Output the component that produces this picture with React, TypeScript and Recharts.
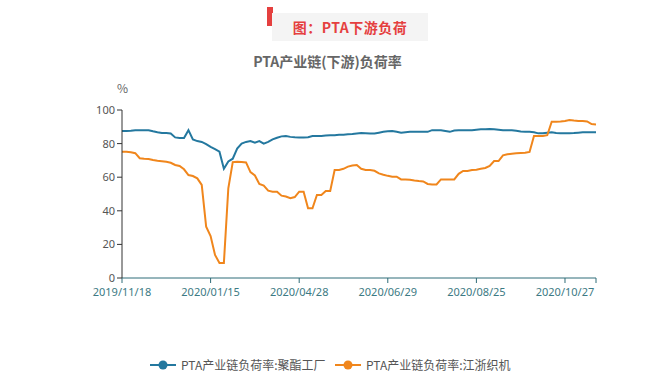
import { LineChart, Line, XAxis, YAxis } from "recharts";

const tickLabels = ["2019/11/18", "2020/01/15", "2020/04/28", "2020/06/29", "2020/08/25", "2020/10/27"];
const seriesNames = ["PTA产业链负荷率:聚酯工厂", "PTA产业链负荷率:江浙织机"];
const seriesColors = ["#24789f", "#f0861c"];

// 聚酯工厂
const polyester = [
  87.5, 87.5, 87.7, 88, 88, 88, 88, 87.3, 86.7, 86.3,
  86.3, 86, 83.7, 83.3, 83.3, 88, 82.5, 81.5, 81, 79.7,
  78, 76.7, 75.2, 65, 69.4, 71, 77, 80, 81, 81.5,
  80.5, 81.5, 80, 81, 82.5, 83.5, 84.3, 84.5, 84, 83.8,
  83.7, 83.7, 83.8, 84.5, 84.5, 84.5, 84.8, 85, 85, 85.2,
  85.3, 85.5, 85.7, 86, 86.3, 86.2, 86, 86, 86.5, 87,
  87.3, 87.5, 87, 86.5, 86.8, 87, 87, 87, 87, 87,
  88, 88, 88, 87.5, 87, 87.8, 88, 88, 88, 88,
  88.3, 88.5, 88.6, 88.7, 88.6, 88.3, 88, 88, 88, 87.7,
  87.2, 87.1, 87, 86.8, 86.1, 86.1, 86.5, 86.8, 86.3, 86.2,
  86.1, 86.2, 86.3, 86.5, 86.7, 86.7, 86.7, 86.7,
];

// 江浙织机
const loom = [
  75.2, 75.2, 74.8, 74.3, 71.3, 71, 70.8, 70.2, 69.8, 69.5,
  69.2, 68.6, 67.3, 66.7, 64.7, 61.3, 60.7, 59.3, 55.4, 30.5,
  25, 13.7, 9, 9, 53.4, 69, 69.2, 69, 68.8, 63,
  61, 56, 55, 52, 51.4, 51.4, 49, 48.5, 47.5, 48.2,
  51.4, 51.4, 41.5, 41.5, 49.4, 49.4, 51.8, 51.8, 64.3, 64.3,
  65, 66.3, 67, 67.3, 65, 64.3, 64.3, 63.8, 62.3, 61.5,
  60.8, 60.3, 60.3, 58.7, 58.7, 58.5, 58, 57.7, 57.5, 56,
  55.7, 55.7, 58.7, 58.7, 58.7, 58.7, 62, 63.7, 63.7, 64.3,
  64.5, 65, 65.5, 66.7, 69.6, 69.6, 73, 73.6, 74, 74.2,
  74.4, 74.5, 75, 84.5, 84.5, 84.5, 85, 93, 93, 93.2,
  93.5, 94, 93.7, 93.5, 93.4, 93.2, 91.6, 91.4,
];

const data = polyester.map((v, i) => ({ i, a: v, b: loom[i] }));
const lastIndex = polyester.length - 1;
const xTicks = [...tickLabels.map((_, k) => k * 20), lastIndex];

const font = "'Noto Sans CJK SC', 'Noto Sans', sans-serif";
const tickFont = "'Noto Sans', sans-serif";
const axisTeal = "#2f6c78";

export default function App() {
  return (
    <div style={{ position: "absolute", left: 0, top: 0, width: 655, height: 380, background: "#fff", fontFamily: font }}>
      <div style={{ position: "absolute", left: 267, top: 7, width: 6, height: 19, background: "#e5403f" }} />
      <div
        style={{
          position: "absolute", left: 272, top: 13, width: 156, height: 28, background: "#f4f4f4",
          color: "#e5403f", fontWeight: 700, fontSize: 14, lineHeight: "28px", textAlign: "center", letterSpacing: 0.5,
        }}
      >
        图：PTA下游负荷
      </div>
      <div style={{ position: "absolute", left: 0, width: 655, top: 51, textAlign: "center", fontSize: 14, fontWeight: 700, color: "#666" }}>
        PTA产业链(下游)负荷率
      </div>
      <div style={{ position: "absolute", left: 117, top: 79, fontSize: 12, color: "#666" }}>%</div>

      <LineChart width={655} height={380} data={data} margin={{ top: 110, right: 59, bottom: 72, left: 72 }}>
        <XAxis
          dataKey="i"
          type="number"
          domain={[0, lastIndex]}
          ticks={xTicks}
          tickFormatter={(v: number) => (v % 20 === 0 ? tickLabels[v / 20] ?? "" : "")}
          height={30}
          axisLine={{ stroke: axisTeal }}
          tickLine={{ stroke: axisTeal }}
          tick={{ fill: "#3c7a84", fontSize: 11, fontFamily: tickFont }}
          tickSize={5}
          tickMargin={5}
          interval={0}
        />
        <YAxis
          domain={[0, 100]}
          ticks={[0, 20, 40, 60, 80, 100]}
          width={50}
          axisLine={{ stroke: "#333" }}
          tickLine={{ stroke: "#333" }}
          tick={{ fill: "#555", fontSize: 11, fontFamily: tickFont }}
          tickSize={5}
        />
        <Line dataKey="a" stroke={seriesColors[0]} strokeWidth={2} dot={false} isAnimationActive={false} type="linear" />
        <Line dataKey="b" stroke={seriesColors[1]} strokeWidth={2} dot={false} isAnimationActive={false} type="linear" />
      </LineChart>

      {seriesNames.map((name, k) => (
        <div key={name} style={{ position: "absolute", top: 356, left: k === 0 ? 150 : 335, display: "flex", alignItems: "center", fontSize: 12, color: "#555" }}>
          <svg width={26} height={14} style={{ marginRight: 5 }}>
            <line x1={0} y1={7} x2={26} y2={7} stroke={seriesColors[k]} strokeWidth={2} />
            <circle cx={13} cy={7} r={4.5} fill={seriesColors[k]} />
          </svg>
          {name}
        </div>
      ))}
    </div>
  );
}
